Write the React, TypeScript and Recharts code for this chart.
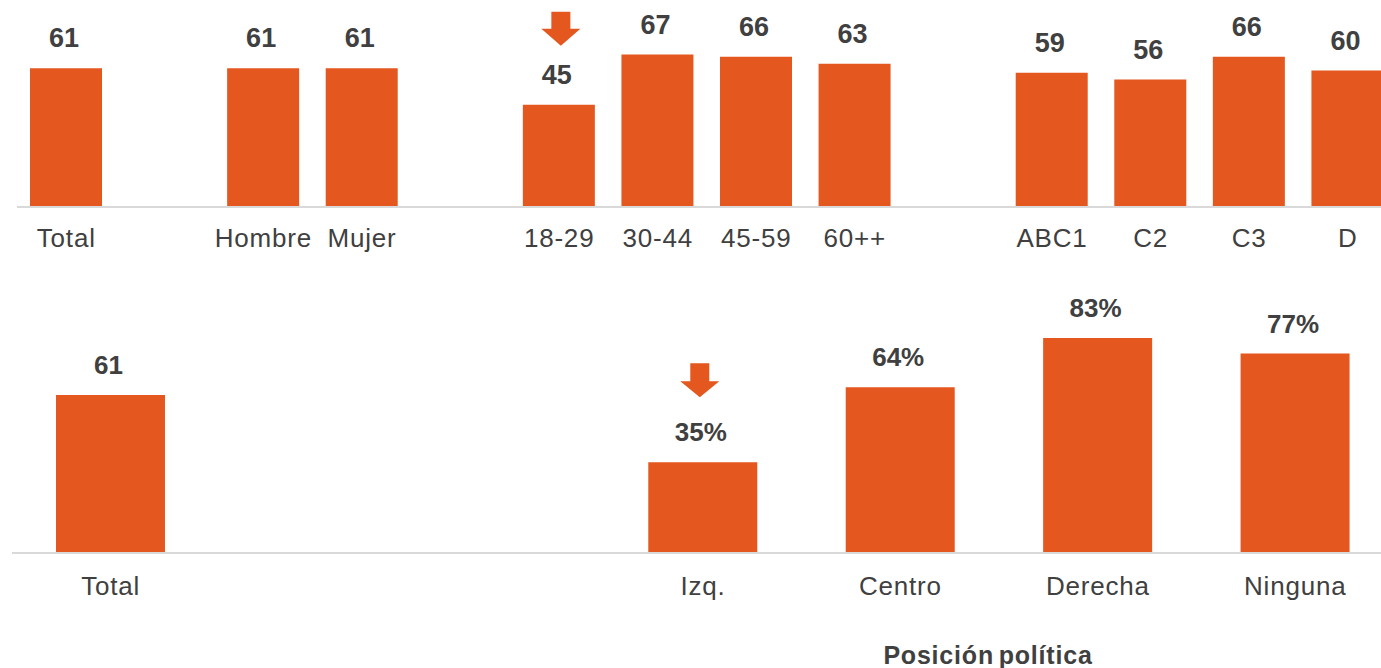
import React from "react";
import { BarChart, Bar, XAxis, YAxis, LabelList } from "recharts";

const ORANGE = "#E4571E";
const TEXT = "#404040";
const AXIS = "#D9D9D9";
const FONT = '"Liberation Sans", Arial, Helvetica, sans-serif';

// top panel: empty strings are the spacer slots between groups
const topCategories = ["Total", "", "Hombre", "Mujer", "", "18-29", "30-44", "45-59", "60++", "", "ABC1", "C2", "C3", "D"];
const topValues = [61, null, 61, 61, null, 45, 67, 66, 63, null, 59, 56, 66, 60];
const topDown = ["18-29"];

// bottom panel
const bottomCategories = ["Total", "", "", "Izq.", "Centro", "Derecha", "Ninguna"];
const bottomValues = [61, null, null, 35, 64, 83, 77];
const bottomUnits = ["", "", "", "%", "%", "%", "%"];
const bottomDown = ["Izq."];
const bottomTitle = "Posición política";

const buildRows = (cats: string[], vals: (number | null)[], down: string[], units?: string[]) =>
  cats.map((name, i) => ({
    id: `c${i}`,
    name,
    value: vals[i],
    label: vals[i] == null ? "" : `${vals[i]}${units ? units[i] : ""}`,
    down: down.includes(name) ? 1 : 0,
  }));

const topData = buildRows(topCategories, topValues, topDown);
const bottomData = buildRows(bottomCategories, bottomValues, bottomDown, bottomUnits);

const makeTick = (rows: { id: string; name: string }[], dy: number) => (props: any) => {
  const { x, y, payload } = props;
  const row = rows.find((r) => r.id === payload.value);
  if (!row || !row.name) return null;
  return (
    <text
      x={x}
      y={y + dy}
      textAnchor="middle"
      fill={TEXT}
      fontSize={26}
      letterSpacing={0.8}
      fontFamily={FONT}
    >
      {row.name}
    </text>
  );
};

const makeValueLabel = (fontSize: number) => (props: any) => {
  const { x, y, width, value } = props;
  if (value === "" || value == null) return null;
  return (
    <text
      x={x + width / 2 - 2}
      y={y - 21}
      textAnchor="middle"
      fill={TEXT}
      fontSize={fontSize}
      fontWeight="bold"
      fontFamily={FONT}
    >
      {value}
    </text>
  );
};

const makeArrow = (top: number, neck: number, tip: number, shift: number) => (props: any) => {
  const { x, y, width, value } = props;
  if (!value) return null;
  const cx = x + width / 2 + shift;
  const d = [
    `M${cx - 9.5},${y - top}`,
    `L${cx + 9.5},${y - top}`,
    `L${cx + 9.5},${y - neck}`,
    `L${cx + 19.5},${y - neck}`,
    `L${cx},${y - tip}`,
    `L${cx - 19.5},${y - neck}`,
    `L${cx - 9.5},${y - neck}`,
    "Z",
  ].join(" ");
  return <path d={d} fill={ORANGE} />;
};

export default function App() {
  return (
    <div
      style={{
        position: "absolute",
        left: 0,
        top: 0,
        width: 1381,
        height: 668,
        overflow: "hidden",
        background: "#fff",
        fontFamily: FONT,
      }}
    >
      <div style={{ position: "absolute", left: 0, top: 0 }}>
        <BarChart width={1400} height={257} data={topData} margin={{ top: 25, right: 3, bottom: 0, left: 17 }}>
          <XAxis
            dataKey="id"
            height={50}
            interval={0}
            tickLine={false}
            tickSize={0}
            tickMargin={0}
            axisLine={{ stroke: AXIS, strokeWidth: 2 }}
            tick={makeTick(topData, 40)}
          />
          <YAxis hide domain={[0, 80]} />
          <Bar dataKey="value" fill={ORANGE} barSize={72} isAnimationActive={false}>
            <LabelList dataKey="label" content={makeValueLabel(27)} />
            <LabelList dataKey="down" content={makeArrow(93, 76, 59, 2)} />
          </Bar>
        </BarChart>
      </div>

      <div style={{ position: "absolute", left: 0, top: 280 }}>
        <BarChart width={1396} height={333} data={bottomData} margin={{ top: 14, right: 2, bottom: 0, left: 12 }}>
          <XAxis
            dataKey="id"
            height={60}
            interval={0}
            tickLine={false}
            tickSize={0}
            tickMargin={0}
            axisLine={{ stroke: AXIS, strokeWidth: 2 }}
            tick={makeTick(bottomData, 42)}
          />
          <YAxis hide domain={[0, 100]} />
          <Bar dataKey="value" fill={ORANGE} barSize={109} isAnimationActive={false}>
            <LabelList dataKey="label" content={makeValueLabel(26)} />
            <LabelList dataKey="down" content={makeArrow(99, 81, 65, -3)} />
          </Bar>
        </BarChart>
      </div>

      <div
        style={{
          position: "absolute",
          left: 788,
          top: 643,
          width: 400,
          textAlign: "center",
          fontSize: 25,
          lineHeight: "25px",
          letterSpacing: 0.8,
          wordSpacing: -3,
          fontWeight: "bold",
          color: TEXT,
        }}
      >
        {bottomTitle}
      </div>
    </div>
  );
}
